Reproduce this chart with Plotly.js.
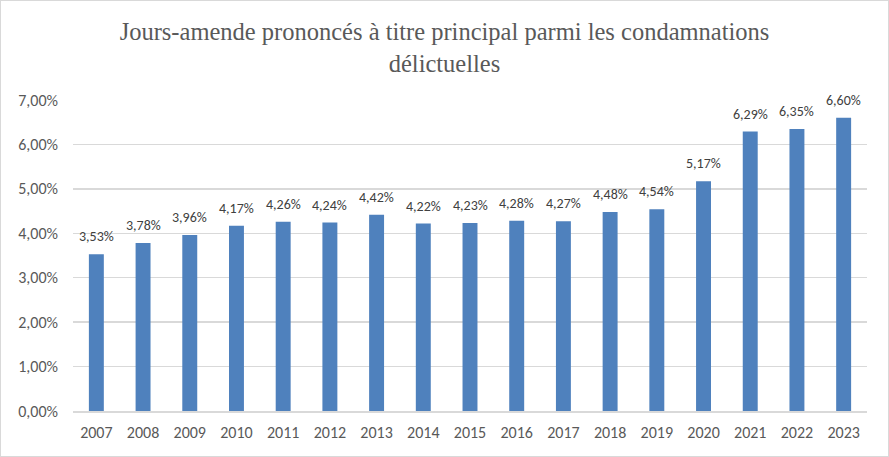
<!DOCTYPE html>
<html><head><meta charset="utf-8">
<script src="https://cdn.plot.ly/plotly-3.0.1.min.js"></script>
<style>html,body{margin:0;padding:0;background:#fff;}#wrap{position:absolute;left:0;top:0;width:887px;height:455px;border:1px solid #d9d9d9;}#chart{width:887px;height:455px;}</style>
</head><body><div id="wrap"><div id="chart"></div></div>
<script>
const years = ["2007","2008","2009","2010","2011","2012","2013","2014","2015","2016","2017","2018","2019","2020","2021","2022","2023"];
const shares = [0.0353,0.0378,0.0396,0.0417,0.0426,0.0424,0.0442,0.0422,0.0423,0.0428,0.0427,0.0448,0.0454,0.0517,0.0629,0.0635,0.0660];
const titleText = "Jours-amende prononcés à titre principal parmi les condamnations<br>délictuelles";
const yTicks = [0,0.01,0.02,0.03,0.04,0.05,0.06,0.07];
const labelFont = {family: 'Carlito, "Liberation Sans", sans-serif', size: 14, color: '#404040'};

const fmt = v => (v * 100).toFixed(2).replace('.', ',') + '%';
// category index positions on the category axis
const annotations = years.map((yr, i) => ({
  x: i, y: shares[i], xref: 'x', yref: 'y', text: fmt(shares[i]),
  showarrow: false, yanchor: 'bottom', xanchor: 'center', yshift: 7, font: labelFont
}));

Plotly.newPlot('chart', [{
  type: 'bar', x: years, y: shares,
  marker: {color: '#4f81bd'},
  hoverinfo: 'none'
}], {
  width: 887, height: 455,
  margin: {l: 72, r: 21, t: 99, b: 45},
  separators: ', ',
  bargap: 0.68,
  paper_bgcolor: '#fff', plot_bgcolor: '#fff',
  title: {text: titleText, x: 0.5, xanchor: 'center', y: 0.915, yanchor: 'top',
    font: {family: '"Liberation Serif", "DejaVu Serif", serif', size: 24.5, color: '#595959'}},
  xaxis: {type: 'category', range: [-0.5, years.length - 0.5], showgrid: false, showline: true, linecolor: '#d9d9d9', linewidth: 1.5,
    ticks: '', ticklabelstandoff: 6, tickfont: {family: 'Carlito, "Liberation Sans", sans-serif', size: 16, color: '#595959'}},
  yaxis: {range: [0, 0.07], tickvals: yTicks, tickformat: '.2%', showgrid: true, gridcolor: '#d9d9d9', gridwidth: 1.5,
    zeroline: false, showline: false, ticks: '', ticklen: 0, ticklabelstandoff: 14,
    tickfont: {family: 'Carlito, "Liberation Sans", sans-serif', size: 16, color: '#595959'}},
  annotations: annotations,
  showlegend: false
}, {displayModeBar: false, staticPlot: true});
</script></body></html>
